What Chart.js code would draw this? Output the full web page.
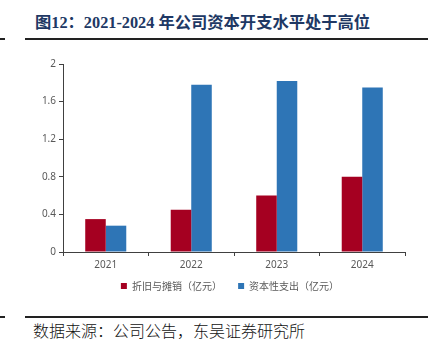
<!DOCTYPE html>
<html><head><meta charset="utf-8">
<script src="https://cdn.jsdelivr.net/npm/chart.js@4/dist/chart.umd.min.js"></script>
<style>
html,body{margin:0;padding:0;background:#fff;}
body{width:428px;height:357px;position:relative;overflow:hidden;}
#title{position:absolute;left:35px;top:13px;font-family:"Liberation Serif","Noto Sans CJK SC";font-weight:bold;font-size:16.3px;color:#203864;white-space:nowrap;line-height:20px;}
.ln{position:absolute;height:2px;background:#222;}
#src{position:absolute;left:33px;top:320px;font-family:"Noto Sans CJK SC";font-weight:300;font-size:16px;color:#111;white-space:nowrap;line-height:20px;}
#c{position:absolute;left:0;top:0;}
</style></head>
<body>
<div id="title">图12：2021-2024 年公司资本开支水平处于高位</div>
<div class="ln" style="left:0;width:5px;top:38px"></div>
<div class="ln" style="left:25px;width:403px;top:38px"></div>
<div class="ln" style="left:0;width:5px;top:316px"></div>
<div class="ln" style="left:25px;width:403px;top:316px"></div>
<div id="src">数据来源：公司公告，东吴证券研究所</div>
<canvas id="c" width="428" height="357"></canvas>
<script>
const categories = ['2021', '2022', '2023', '2024'];
const depreciation = [0.35, 0.45, 0.60, 0.80];
const capex = [0.28, 1.78, 1.82, 1.75];
const seriesNames = ['折旧与摊销（亿元）', '资本性支出（亿元）'];
const yTickLabels = ['0', '0.4', '0.8', '1.2', '1.6', '2'];

const axisColor = '#404040';
const tickFont = {family: '"Noto Sans", "Liberation Sans"', size: 10};

const legendShift = {
  id: 'legendShift',
  afterLayout(chart) {
    const l = chart.legend;
    if (!l) return;
    l.left = 55; l.right = 405; l.width = l.right - l.left;
    if (l.adjustHitBoxes) l.adjustHitBoxes();
  }
};

new Chart(document.getElementById('c'), {
  type: 'bar',
  data: {
    labels: categories,
    datasets: [
      {label: seriesNames[0], data: depreciation, backgroundColor: '#A50021', categoryPercentage: 0.48, barPercentage: 1},
      {label: seriesNames[1], data: capex, backgroundColor: '#2E75B6', categoryPercentage: 0.48, barPercentage: 1}
    ]
  },
  plugins: [legendShift],
  options: {
    responsive: false,
    animation: false,
    devicePixelRatio: 1,
    layout: {padding: {left: 20, right: 23, top: 64, bottom: 56}},
    plugins: {
      tooltip: {enabled: false},
      legend: {
        position: 'bottom',
        labels: {
          boxWidth: 6, boxHeight: 6, padding: 9,
          color: '#595959',
          font: {family: '"Noto Sans CJK SC"', size: 10},
          generateLabels(chart) {
            const items = Chart.defaults.plugins.legend.labels.generateLabels(chart);
            if (items.length) items[0].text = items[0].text + '\u3000 ';
            return items;
          }
        }
      }
    },
    scales: {
      x: {
        offset: true,
        grid: {offset: true, drawOnChartArea: false, drawTicks: true, tickLength: 4, color: axisColor},
        border: {display: true, color: axisColor, width: 1},
        ticks: {color: '#595959', font: tickFont, padding: 3},
        afterFit: s => { s.height = 20; }
      },
      y: {
        min: 0, max: 2,
        ticks: {stepSize: 0.4, color: '#595959', font: tickFont, padding: 3,
          callback: (v, i) => yTickLabels[i]},
        grid: {drawOnChartArea: false, drawTicks: true, tickLength: 4, color: axisColor},
        border: {display: true, color: axisColor, width: 1},
        afterFit: s => { s.width = 43; }
      }
    }
  }
});
</script>
</body></html>
